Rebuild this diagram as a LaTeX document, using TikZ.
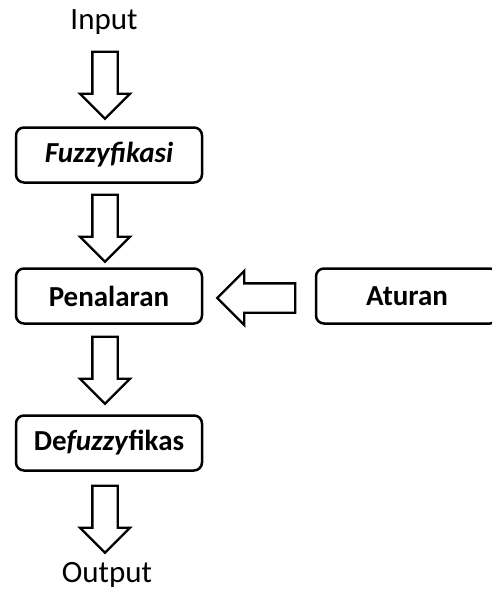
\documentclass[tikz,border=0pt]{standalone}
\usepackage{fontspec}
\setmainfont{Carlito}
\usetikzlibrary{shapes.arrows}

\tikzset{
	box/.style={draw, rectangle, rounded corners=8pt, line width=2.5pt, minimum width=186pt, minimum height=55pt, font=\fontsize{29}{31}\selectfont\bfseries},
	blockarrow/.style={draw, shape=single arrow, line width=2.3pt, inner xsep=0pt, inner ysep=11.5pt, single arrow head extend=12.5pt, minimum height=67pt}
}

\begin{document}
\begin{tikzpicture}[x=1pt, y=-1pt]
				\useasboundingbox (0,0) rectangle (491,590);
				\node[font=\fontsize{31}{33}\selectfont] (input)at(104, 22) {Input};
				\node[box] (fuzz)at(109, 155) {\textit{Fuzzyfikasi}};
				\node[box] (nalar)at(109, 296) {Penalaran};
				\node[box] (defuzz)at(109, 443) {De\textit{fuzzy}fikas};
				\node[box, minimum width=182pt] (aturan)at(407, 296) {Aturan};
				\node[font=\fontsize{31}{33}\selectfont] (output)at(107, 575) {Output};
				\node[blockarrow, rotate=-90] (arrIn)at(105, 79) {};
				\node[blockarrow, rotate=-90] (arrFuzz)at(105, 222) {};
				\node[blockarrow, rotate=-90] (arrNalar)at(105, 364) {};
				\node[blockarrow, rotate=-90] (arrOut)at(105, 513) {};
				\node[blockarrow, rotate=180, minimum height=78pt, inner ysep=13.5pt, single arrow head extend=12.5pt] (arrAturan)at(263.5, 298) {};
			\end{tikzpicture}
\end{document}
